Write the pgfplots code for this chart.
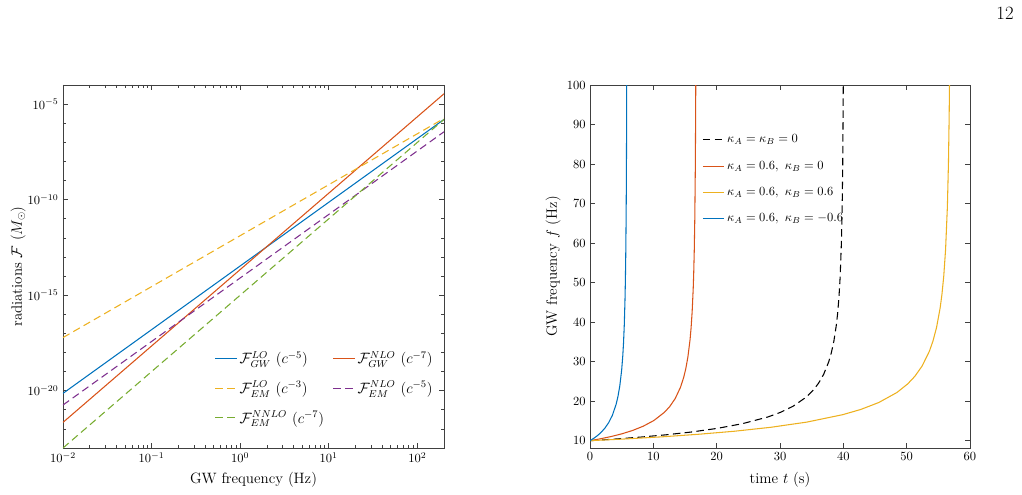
\documentclass[border=0pt]{standalone}
\usepackage{pgfplots}
\pgfplotsset{compat=1.18}

% MATLAB default line colours
\definecolor{mblue}{rgb}{0,0.447,0.741}
\definecolor{mred}{rgb}{0.850,0.325,0.098}
\definecolor{myellow}{rgb}{0.929,0.694,0.125}
\definecolor{mpurple}{rgb}{0.494,0.184,0.556}
\definecolor{mgreen}{rgb}{0.466,0.674,0.188}
\definecolor{axgray}{rgb}{0.25,0.25,0.25}

\pgfplotsset{
  mstyle/.style={
    scale only axis,
    axis line style={axgray, line width=0.7pt},
    tick style={axgray, line width=0.5pt},
    tick align=inside,
    major tick length=4pt,
    minor tick length=2.6pt,
    label style={font=\large},
    tick label style={font=\normalsize},
    every axis plot/.append style={line width=0.85pt},
    legend cell align=left,
  },
  mdash/.style={dash pattern=on 6pt off 3.5pt},
}

\begin{document}
\begin{tikzpicture}
\path[use as bounding box] (0pt,0pt) rectangle (817.6pt,396pt);
\node[font=\fontsize{15}{18}\selectfont] at (804pt,385.6pt) {12};

% ---------------- radiation fluxes vs frequency ----------------
\begin{axis}[mstyle,
  at={(50.4pt,37.6pt)}, anchor=south west,
  width=304.8pt, height=290.4pt,
  xmode=log, ymode=log,
  xmin=0.01, xmax=200, ymin=1e-23, ymax=1e-4,
  xtick={0.01,0.1,1,10,100},
  ytick={1e-20,1e-15,1e-10,1e-5},
  minor ytick={1e-23,1e-22,1e-21,1e-19,1e-18,1e-17,1e-16,1e-14,1e-13,1e-12,1e-11,1e-9,1e-8,1e-7,1e-6,1e-4},
  xlabel={GW frequency (Hz)},
  ylabel={radiations $\mathcal{F}$ ($M_\odot$)},
  xlabel style={at={(axis description cs:0.5,-0.088)}, anchor=center},
  ylabel style={at={(axis description cs:-0.118,0.5)}, anchor=center},
  legend columns=2,
  legend style={draw=none, fill=none, font=\large,
    at={(axis description cs:0.388,0.281)}, anchor=north west,
    row sep=8.5pt,
    /tikz/every even column/.append style={column sep=5pt}},
]
\addplot[mblue, no marks] coordinates {(0.01,7.24e-21) (200,1.58e-6)};
\addlegendentry{$\mathcal{F}_{GW}^{LO}$ $(c^{-5})$}
\addplot[mred, no marks] coordinates {(0.01,2.19e-22) (200,3.47e-5)};
\addlegendentry{$\mathcal{F}_{GW}^{NLO}$ $(c^{-7})$}
\addplot[myellow, mdash, no marks] coordinates {(0.01,6.03e-18) (200,1.78e-6)};
\addlegendentry{$\mathcal{F}_{EM}^{LO}$ $(c^{-3})$}
\addplot[mpurple, mdash, no marks] coordinates {(0.01,1.78e-21) (200,3.55e-7)};
\addlegendentry{$\mathcal{F}_{EM}^{NLO}$ $(c^{-5})$}
\addplot[mgreen, mdash, no marks] coordinates {(0.01,1e-23) (200,1.58e-6)};
\addlegendentry{$\mathcal{F}_{EM}^{NNLO}$ $(c^{-7})$}
\end{axis}

% ---------------- frequency evolution in time ----------------
\begin{axis}[mstyle,
  at={(472pt,37.6pt)}, anchor=south west,
  width=304pt, height=290.4pt,
  xmin=0, xmax=60, ymin=8.15, ymax=100,
  xtick={0,10,...,60},
  ytick={10,20,...,100},
  xlabel={time $t$ (s)},
  ylabel={GW frequency $f$ (Hz)},
  xlabel style={at={(axis description cs:0.5,-0.088)}, anchor=center},
  ylabel style={at={(axis description cs:-0.097,0.5)}, anchor=center},
  legend style={draw=none, fill=none, font=\normalsize,
    at={(axis description cs:0.285,0.877)}, anchor=north west,
    row sep=9pt},
]
\addplot[black, mdash, no marks] coordinates {
  (0,10) (4.01,10.42) (8.02,10.91) (12.03,11.49) (16.04,12.20) (20.05,13.10)
  (24.06,14.30) (28.07,15.99) (30.075,17.17) (32.08,18.73) (34.085,20.96)
  (35.288,22.86) (36.09,24.55) (36.892,26.78) (37.694,29.96) (38.095,32.17)
  (38.496,35.09) (38.897,39.26) (39.098,42.15) (39.298,45.98) (39.499,51.44)
  (39.699,60.26) (39.819,69.25) (39.900,78.96) (39.980,96.37) (39.99,103.5)};
\addlegendentry{$\kappa_A=\kappa_B=0$}
\addplot[mred, no marks] coordinates {
  (0,10) (1.68,10.49) (3.36,11.06) (5.04,11.74) (6.72,12.58) (8.4,13.66)
  (10.08,15.10) (11.76,17.19) (12.6,18.66) (13.44,20.63) (14.28,23.48)
  (14.784,25.96) (15.12,28.18) (15.456,31.16) (15.792,35.47) (15.96,38.50)
  (16.128,42.57) (16.296,48.45) (16.38,52.59) (16.464,58.15) (16.548,66.19)
  (16.632,79.43) (16.682,93.26) (16.699,99.97) (16.716,108.5)};
\addlegendentry{$\kappa_A=0.6,\ \kappa_B=0$}
\addplot[myellow, no marks] coordinates {
  (0,10) (5.7,10.45) (11.4,10.98) (17.1,11.62) (22.8,12.39) (28.5,13.38)
  (34.2,14.69) (39.9,16.58) (42.75,17.90) (45.6,19.66) (48.45,22.18)
  (50.16,24.36) (51.3,26.30) (52.44,28.89) (53.58,32.60) (54.15,35.19)
  (54.72,38.65) (55.29,43.61) (55.575,47.08) (55.86,51.71) (56.145,58.35)
  (56.43,69.18) (56.601,80.36) (56.715,92.56) (56.772,101.7)};
\addlegendentry{$\kappa_A=0.6,\ \kappa_B=0.6$}
\addplot[mblue, no marks] coordinates {
  (0,10) (0.588,10.59) (1.176,11.28) (1.764,12.12) (2.352,13.18) (2.94,14.54)
  (3.528,16.40) (4.116,19.16) (4.41,21.14) (4.704,23.85) (4.998,27.86)
  (5.174,31.43) (5.292,34.68) (5.410,39.12) (5.527,45.69) (5.586,50.41)
  (5.645,56.87) (5.704,66.42) (5.733,73.31) (5.762,82.70) (5.792,96.59)
  (5.798,100.25)};
\addlegendentry{$\kappa_A=0.6,\ \kappa_B=-0.6$}
\end{axis}
\end{tikzpicture}
\end{document}
